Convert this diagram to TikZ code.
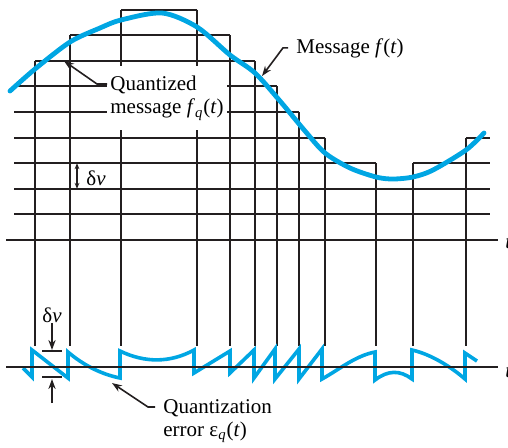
\documentclass[tikz,border=0pt]{standalone}
\usepackage{fontspec}
\setmainfont{Liberation Serif}
\usepackage{tikz}
\usetikzlibrary{arrows.meta}

\definecolor{ink}{RGB}{35,31,32}
\definecolor{sig}{RGB}{0,166,227}

\begin{document}
\begin{tikzpicture}[
  x=0.5pt, y=-0.5pt,
  grid/.style={draw=ink, line width=1pt},
  wave/.style={draw=sig, line width=2.4pt, line cap=round},
  errwave/.style={draw=sig, line width=1.8pt, line join=miter},
  lbl/.style={font=\fontsize{10.5}{11.5}\selectfont, inner sep=0pt, align=left},
  arr/.style={-{Stealth[length=5pt,width=3.6pt]}, draw=ink, line width=0.8pt},
  dbl/.style={{Stealth[length=3pt,width=2.4pt]}-{Stealth[length=3pt,width=2.4pt]}, draw=ink, line width=0.6pt}
]
  \useasboundingbox (0,0) rectangle (508,447);

  % quantized staircase, one bar per sample interval
  \foreach \a/\b/\k in {14/35/6, 35/70/7, 70/121/8, 121/197/9, 197/230/8, 230/255/7,
                        255/277/6, 277/299/5, 299/325/4, 325/376/3, 376/413/2, 413/466/3, 466/490/4}
    \foreach \j in {1,...,\k}
      \draw[grid] (\a,{240-25.6*\j}) -- (\b,{240-25.6*\j});
  \foreach \x/\k in {35/7, 70/8, 121/9, 197/9, 230/8, 255/7, 277/6, 299/5, 325/4, 376/3, 413/3, 466/4}
    \draw[grid] (\x,{240-25.6*\k}) -- (\x,346);
  \draw[grid] (6,240) -- (498,240);

  \node[lbl, fill=white, inner xsep=1.5pt, inner ysep=5pt, anchor=north west] (qlab) at (107,66)
    {Quantized\\message \textit{f}\textsubscript{\textit{q}}(\textit{t})};

  % message
  \draw[wave] plot[smooth] coordinates {(10,91) (35,69) (70,42) (100,28) (121,20) (162,13) (197,27)
    (230,55) (255,73) (280,101) (305,131) (325,153) (350,168) (376,177) (393,179) (413,177)
    (433,170) (466,150) (484,133)};

  % quantization error
  \draw[errwave] (23,368) -- (32,377) -- (32,350) -- (68,378) -- (68,352)
    .. controls (82,364) and (100,374) .. (120,378) -- (120,351)
    .. controls (145,363) and (170,363) .. (194,350) -- (194,373) -- (230,351) -- (230,373)
    -- (254,350) -- (254,378) -- (275,349) -- (275,379) -- (299,349) -- (299,379)
    -- (322,349) -- (322,379) .. controls (340,369) and (355,356) .. (375,352) -- (375,380)
    .. controls (388,370) and (400,370) .. (412,379) -- (412,350)
    .. controls (430,354) and (450,366) .. (465,379) -- (465,353) -- (477,361);
  \draw[grid] (6,367) -- (498,367);

  \node[lbl, anchor=base west] (taxis) at (505,248) {\textit{t}};
  \node[lbl, anchor=base west] (terr) at (505,377) {\textit{t}};

  % labels and pointers
  \node[lbl, inner xsep=4pt, anchor=base west] (mlab) at (288,53) {Message \textit{f}(\textit{t})};
  \coordinate (mbend) at (283,48);
  \coordinate (mtip) at (262,76);
  \draw[arr] (mlab.west) -- (mlab.west -| mbend) -- (mtip);

  \coordinate (qbend) at (97,84);
  \coordinate (qtip) at (64,61);
  \draw[arr] (qbend -| qlab.west) -- (qbend) -- (qtip);

  \node[lbl, inner xsep=4pt, anchor=north west] (elab) at (155,399)
    {Quantization\\error ε\textsubscript{\textit{q}}(\textit{t})};
  \coordinate (ebend) at (148,407);
  \coordinate (etip) at (112,383);
  \draw[arr] (ebend -| elab.west) -- (ebend) -- (etip);

  \node[lbl, anchor=west] (dva) at (86,178) {δ\textit{v}};
  \coordinate (dvhi) at (77,163.2);
  \coordinate (dvlo) at (77,188.8);
  \draw[dbl] (dvhi) -- (dvlo);

  \node[lbl] (dvb) at (52,315) {δ\textit{v}};
  \draw[grid] (42,351) -- (62,351);
  \draw[grid] (42,377) -- (62,377);
  \coordinate (dvtop) at (52,350);
  \coordinate (dvbot) at (52,403);
  \coordinate (dvlow) at (52,379);
  \draw[arr] (dvb.south) -- (dvtop);
  \draw[arr] (dvbot) -- (dvlow);
\end{tikzpicture}
\end{document}
